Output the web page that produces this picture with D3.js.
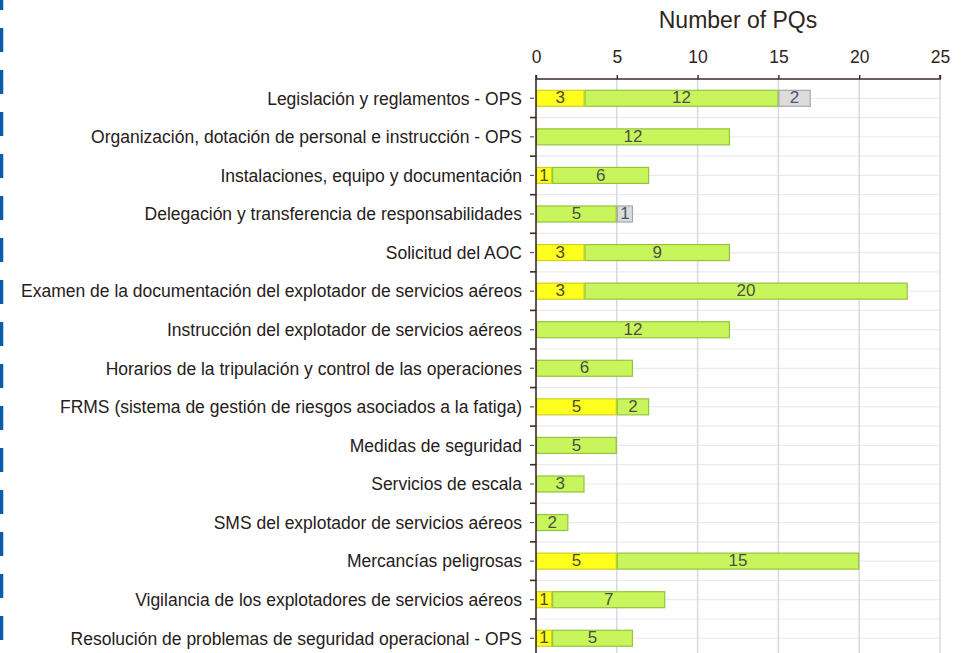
<!DOCTYPE html>
<html>
<head>
<meta charset="utf-8">
<script src="https://cdn.jsdelivr.net/npm/d3@7"></script>
<style>
  body { margin: 0; background: #fff; }
  svg { display: block; font-family: "Liberation Sans", Arial, sans-serif; }
</style>
</head>
<body>
<svg id="chart" width="970" height="653"></svg>
<script>
const categories = [
  'Legislación y reglamentos - OPS',
  'Organización, dotación de personal e instrucción - OPS',
  'Instalaciones, equipo y documentación',
  'Delegación y transferencia de responsabilidades',
  'Solicitud del AOC',
  'Examen de la documentación del explotador de servicios aéreos',
  'Instrucción del explotador de servicios aéreos',
  'Horarios de la tripulación y control de las operaciones',
  'FRMS (sistema de gestión de riesgos asociados a la fatiga)',
  'Medidas de seguridad',
  'Servicios de escala',
  'SMS del explotador de servicios aéreos',
  'Mercancías peligrosas',
  'Vigilancia de los explotadores de servicios aéreos',
  'Resolución de problemas de seguridad operacional - OPS'
];
const yellowValues = [3, 0, 1, 0, 3, 3, 0, 0, 5, 0, 0, 0, 5, 1, 1];
const greenValues  = [12, 12, 6, 5, 9, 20, 12, 6, 2, 5, 3, 2, 15, 7, 5];
const grayValues   = [2, 0, 0, 1, 0, 0, 0, 0, 0, 0, 0, 0, 0, 0, 0];
const xTicks = [0, 5, 10, 15, 20, 25];
const axisTitle = 'Number of PQs';

const seriesStyle = [
  { key: 'yellow', fill: '#ffff1e', stroke: '#cfcf2a', text: '#4a4a3a' },
  { key: 'green',  fill: '#c8f55c', stroke: '#95c43c', text: '#4a5048' },
  { key: 'gray',   fill: '#dcdcdc', stroke: '#a8a8a8', text: '#4a566c' }
];

const rows = categories.map((c, i) => ({
  name: c, yellow: yellowValues[i], green: greenValues[i], gray: grayValues[i]
}));

const svg = d3.select('#chart');
const plotLeft = 536, plotRight = 940, plotTop = 79, bandStep = 38.57;
const plotBottom = plotTop + bandStep * categories.length;

const x = d3.scaleLinear().domain([0, 25]).range([plotLeft, plotRight]);
const y = d3.scaleBand().domain(categories).range([plotTop, plotBottom]).padding(0);
const barH = 16;

// left decorative dashed strip
svg.append('line')
  .attr('x1', 1.5).attr('x2', 1.5).attr('y1', -14).attr('y2', 653)
  .attr('stroke', '#0b5cad').attr('stroke-width', 3.5)
  .attr('stroke-dasharray', '24 18');

// horizontal gridlines at bar centres and band edges
const hLines = [];
categories.forEach(c => { hLines.push(y(c) + y.bandwidth() / 2); hLines.push(y(c) + y.bandwidth()); });
svg.append('g').selectAll('line').data(hLines).join('line')
  .attr('x1', plotLeft).attr('x2', plotRight)
  .attr('y1', d => d).attr('y2', d => d)
  .attr('stroke', '#ebebeb').attr('stroke-width', 1.2);

// vertical gridlines
svg.append('g').selectAll('line').data(xTicks.slice(1)).join('line')
  .attr('x1', d => x(d)).attr('x2', d => x(d))
  .attr('y1', plotTop).attr('y2', 653)
  .attr('stroke', '#d3dae6').attr('stroke-width', 1.5);

// stacked bars
const stack = d3.stack().keys(['yellow', 'green', 'gray'])(rows);
stack.forEach((layer, li) => {
  const st = seriesStyle[li];
  const g = svg.append('g');
  const segs = layer.map((d, i) => ({ d, name: rows[i].name, v: d[1] - d[0] })).filter(s => s.v > 0);
  g.selectAll('rect').data(segs).join('rect')
    .attr('x', s => x(s.d[0]) + 0.5)
    .attr('y', s => y(s.name) + y.bandwidth() / 2 - barH / 2)
    .attr('width', s => x(s.d[1]) - x(s.d[0]) - 1)
    .attr('height', barH)
    .attr('fill', st.fill)
    .attr('stroke', st.stroke)
    .attr('stroke-width', 1.2);
  g.selectAll('text').data(segs).join('text')
    .attr('x', s => (x(s.d[0]) + x(s.d[1])) / 2)
    .attr('y', s => y(s.name) + y.bandwidth() / 2 - 1)
    .attr('dy', '0.36em')
    .attr('text-anchor', 'middle')
    .attr('font-size', 17)
    .attr('fill', st.text)
    .text(s => s.v);
});

// top axis
const xAxis = svg.append('g').attr('transform', `translate(0,${plotTop})`)
  .call(d3.axisTop(x).tickValues(xTicks).tickSize(4).tickPadding(12));
xAxis.select('.domain').attr('stroke', '#3b2a26').attr('stroke-width', 1.6)
  .attr('d', `M${plotLeft},-4V0H${plotRight}V-4`);
xAxis.selectAll('.tick line').attr('stroke', '#3b2a26').attr('stroke-width', 1.4);
xAxis.selectAll('.tick text').attr('font-size', 17.5).attr('fill', '#2e2522')
  .attr('font-family', '"Liberation Sans", Arial, sans-serif');

// left axis
svg.append('line')
  .attr('x1', plotLeft).attr('x2', plotLeft).attr('y1', plotTop).attr('y2', 653)
  .attr('stroke', '#3b2a26').attr('stroke-width', 1.6);
svg.append('g').selectAll('line').data(categories).join('line')
  .attr('x1', plotLeft - 6).attr('x2', plotLeft)
  .attr('y1', c => y(c) + y.bandwidth()).attr('y2', c => y(c) + y.bandwidth())
  .attr('stroke', '#3b2a26').attr('stroke-width', 1.6);
svg.append('g').selectAll('line').data(categories).join('line')
  .attr('x1', plotLeft - 6).attr('x2', plotLeft - 2)
  .attr('y1', c => y(c) + y.bandwidth() / 2).attr('y2', c => y(c) + y.bandwidth() / 2)
  .attr('stroke', '#555').attr('stroke-width', 1.2);

// category labels
svg.append('g').selectAll('text').data(categories).join('text')
  .attr('x', plotLeft - 14)
  .attr('y', c => y(c) + y.bandwidth() / 2)
  .attr('dy', '0.36em')
  .attr('text-anchor', 'end')
  .attr('font-size', 17.5)
  .attr('fill', '#262020')
  .text(c => c);

// axis title
svg.append('text')
  .attr('x', (plotLeft + plotRight) / 2).attr('y', 28)
  .attr('text-anchor', 'middle')
  .attr('font-size', 23)
  .attr('fill', '#2e2522')
  .text(axisTitle);
</script>
</body>
</html>
